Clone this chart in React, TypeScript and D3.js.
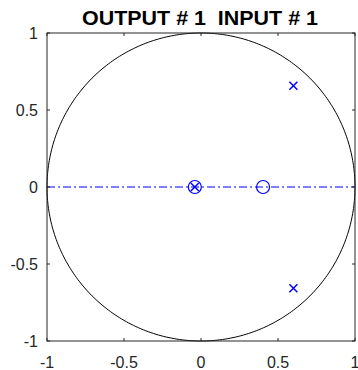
import React from 'react';
import * as d3 from 'd3';

// pole-zero map, output 1 / input 1
const poles: [number, number][] = [[0.6, 0.657], [0.6, -0.657], [-0.04, 0]];
const zeros: [number, number][] = [[-0.04, 0], [0.403, 0]];
const ticks = [-1, -0.5, 0, 0.5, 1];
const tickLabels = ['-1', '-0.5', '0', '0.5', '1'];
const title = 'OUTPUT # 1  INPUT # 1';

const App: React.FC = () => {
    const svgRef = React.useRef<SVGSVGElement>(null);
    const width = 358;
    const height = 370;

    React.useEffect(() => {
        if (!svgRef.current) return;
        const svg = d3.select(svgRef.current);
        svg.selectAll('*').remove();

        const left = 47, right = 355, top = 33, bottom = 341;
        const x = d3.scaleLinear().domain([-1, 1]).range([left, right]);
        const y = d3.scaleLinear().domain([-1, 1]).range([bottom, top]);
        const font = 'Liberation Sans, Arial, sans-serif';

        // unit circle
        const circ = d3.range(0, 361, 1).map(a => [Math.cos(a * Math.PI / 180), Math.sin(a * Math.PI / 180)] as [number, number]);
        svg.append('path')
            .attr('d', d3.line<[number, number]>().x(d => x(d[0])).y(d => y(d[1]))(circ))
            .attr('fill', 'none')
            .attr('stroke', '#000')
            .attr('stroke-width', 1);

        // real axis dash-dot
        svg.append('line')
            .attr('x1', x(-1)).attr('x2', x(1))
            .attr('y1', y(0)).attr('y2', y(0))
            .attr('stroke', '#0000ff')
            .attr('stroke-width', 1)
            .attr('stroke-dasharray', '8,3,2,3');

        // zeros
        svg.selectAll('circle.zero')
            .data(zeros)
            .enter()
            .append('circle')
            .attr('class', 'zero')
            .attr('cx', d => x(d[0]))
            .attr('cy', d => y(d[1]))
            .attr('r', 6.5)
            .attr('fill', 'none')
            .attr('stroke', '#0000ff')
            .attr('stroke-width', 1.2);

        // poles
        const s = 4;
        svg.selectAll('path.pole')
            .data(poles)
            .enter()
            .append('path')
            .attr('class', 'pole')
            .attr('d', d => {
                const cx = x(d[0]), cy = y(d[1]);
                return `M${cx - s},${cy - s}L${cx + s},${cy + s}M${cx - s},${cy + s}L${cx + s},${cy - s}`;
            })
            .attr('stroke', '#0000ff')
            .attr('stroke-width', 1.5)
            .attr('fill', 'none');

        // box
        svg.append('rect')
            .attr('x', left).attr('y', top)
            .attr('width', right - left).attr('height', bottom - top)
            .attr('fill', 'none')
            .attr('stroke', '#262626')
            .attr('stroke-width', 1);

        const tl = 3;
        ticks.forEach((t, i) => {
            // x ticks bottom & top
            svg.append('line').attr('x1', x(t)).attr('x2', x(t)).attr('y1', bottom).attr('y2', bottom - tl).attr('stroke', '#262626');
            svg.append('line').attr('x1', x(t)).attr('x2', x(t)).attr('y1', top).attr('y2', top + tl).attr('stroke', '#262626');
            // y ticks left & right
            svg.append('line').attr('y1', y(t)).attr('y2', y(t)).attr('x1', left).attr('x2', left + tl).attr('stroke', '#262626');
            svg.append('line').attr('y1', y(t)).attr('y2', y(t)).attr('x1', right).attr('x2', right - tl).attr('stroke', '#262626');

            svg.append('text')
                .attr('x', x(t)).attr('y', bottom + 27)
                .attr('text-anchor', 'middle')
                .attr('font-family', font).attr('font-size', 16)
                .attr('fill', '#262626')
                .text(tickLabels[i]);
            svg.append('text')
                .attr('x', left - 9).attr('y', y(t) + 6)
                .attr('text-anchor', 'end')
                .attr('font-family', font).attr('font-size', 16)
                .attr('fill', '#262626')
                .text(tickLabels[i]);
        });

        svg.append('text')
            .attr('x', 200).attr('y', 25)
            .attr('text-anchor', 'middle')
            .attr('font-family', font).attr('font-size', 20)
            .attr('font-weight', 'bold')
            .attr('fill', '#000')
            .attr('textLength', 236)
            .attr('lengthAdjust', 'spacingAndGlyphs')
            .style('white-space', 'pre')
            .text(title);
    }, []);

    return (
        <svg ref={svgRef} width={width} height={height}
            style={{ position: 'absolute', left: 0, top: 0, background: '#fff' }} />
    );
};

export default App;
